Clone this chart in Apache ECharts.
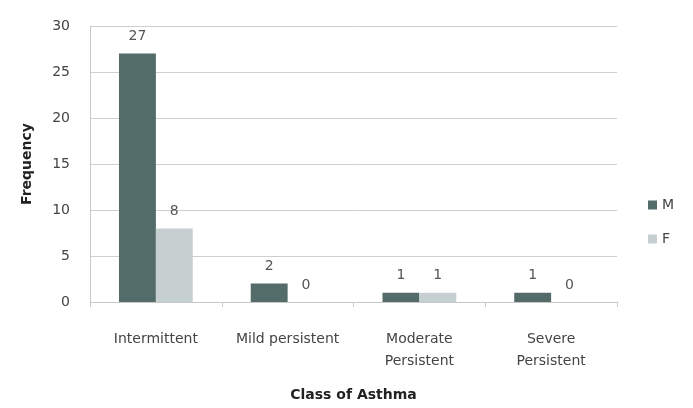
<!DOCTYPE html>
<html>
<head>
<meta charset="utf-8">
<script src="https://cdn.jsdelivr.net/npm/echarts@6/dist/echarts.min.js"></script>
<style>
  html, body { margin: 0; padding: 0; background: #fff; }
  #chart { width: 693px; height: 408px; }
</style>
</head>
<body>
<div id="chart"></div>
<script>
const categories = ['Intermittent', 'Mild persistent', 'Moderate\nPersistent', 'Severe\nPersistent']
const maleValues = [27, 2, 1, 1]
const femaleValues = [8, 0, 1, 0]
const yTicks = { min: 0, max: 30, interval: 5 }

const chart = echarts.init(document.getElementById('chart'))
const textColor = '#444'
chart.setOption({
  animation: false,
  textStyle: { fontFamily: 'DejaVu Sans' },
  grid: { left: 90, right: 76, top: 26, bottom: 106 },
  legend: {
    orient: 'vertical',
    left: 643,
    top: 193,
    itemWidth: 9,
    itemHeight: 9,
    itemGap: 20,
    icon: 'rect',
    textStyle: { color: textColor, fontSize: 14 },
    data: ['M', 'F']
  },
  xAxis: {
    type: 'category',
    data: categories,
    name: 'Class of Asthma',
    nameLocation: 'middle',
    nameGap: 86,
    nameTextStyle: { fontWeight: 'bold', fontSize: 14, color: '#222' },
    axisLine: { lineStyle: { color: '#c8c8c8' } },
    axisTick: { show: true, length: 5, lineStyle: { color: '#c8c8c8' } },
    axisLabel: { color: textColor, fontSize: 14, margin: 26, lineHeight: 22, interval: 0, hideOverlap: false }
  },
  yAxis: {
    type: 'value',
    min: yTicks.min,
    max: yTicks.max,
    interval: yTicks.interval,
    name: 'Frequency',
    nameLocation: 'middle',
    nameGap: 56,
    nameTextStyle: { fontWeight: 'bold', fontSize: 14, color: '#222' },
    axisLine: { show: true, lineStyle: { color: '#c8c8c8' } },
    axisTick: { show: false },
    axisLabel: { color: textColor, fontSize: 14, margin: 20 },
    splitLine: { lineStyle: { color: '#cfcfcf' } }
  },
  series: [{
    name: 'M',
    type: 'bar',
    data: maleValues,
    barGap: 0,
    barCategoryGap: '44%',
    itemStyle: { color: '#536b69' },
    label: { show: true, position: 'top', distance: 10, color: '#555', fontSize: 14 }
  }, {
    name: 'F',
    type: 'bar',
    data: femaleValues,
    itemStyle: { color: '#c7d0d0' },
    label: { show: true, position: 'top', distance: 10, color: '#555', fontSize: 14 }
  }]
})
</script>
</body>
</html>
